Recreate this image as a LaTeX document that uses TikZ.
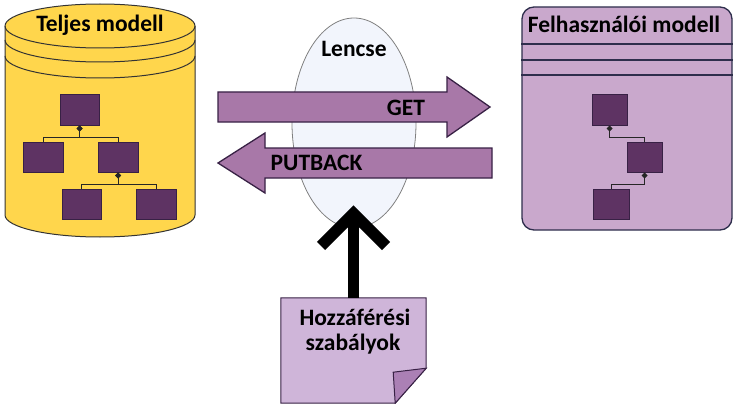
\documentclass[tikz,border=0pt]{standalone}
\usepackage{fontspec}
\setmainfont{Carlito}
\usepackage{tikz}
\usetikzlibrary{arrows.meta}
\usetikzlibrary{shapes.geometric}
\definecolor{myellow}{rgb}{1, 0.84, 0.3}
\definecolor{mplum}{rgb}{0.37, 0.2, 0.39}
\definecolor{mplumline}{rgb}{0.22, 0.13, 0.27}
\definecolor{mlilac}{rgb}{0.79, 0.66, 0.8}
\definecolor{marrow}{rgb}{0.66, 0.47, 0.66}
\definecolor{mnote}{rgb}{0.81, 0.71, 0.85}
\definecolor{mflap}{rgb}{0.67, 0.5, 0.71}
\definecolor{mlens}{rgb}{0.95, 0.96, 0.99}
\definecolor{mnavy}{rgb}{0.18, 0.18, 0.3}
\tikzset{lbl/.style = {font=\bfseries\fontsize{23.5}{26}\selectfont, inner sep=0pt},
         cyl/.style = {draw=black!80, fill=myellow, line width=1pt},
         treebox/.style = {draw=mplumline, fill=mplum, line width=1pt, minimum height=30pt, inner sep=0pt},
         link/.style = {line width=1pt, draw=black!85, {Diamond[length=6pt,width=6pt]}-},
         userbox/.style = {draw=mnavy, fill=mlilac, line width=1.3pt, rounded corners=12pt},
         blockarrow/.style = {draw=mplumline, fill=marrow, line width=1.3pt, line join=miter},
         ctrl/.style = {draw=black, line width=11.5pt}}

\begin{document}
\begin{tikzpicture}[x=1pt, y=-1pt]
    \useasboundingbox (0, 0) rectangle (742, 404);

    \draw [cyl] (5, 26) -- (5, 215) arc (180:0:95 and 22) -- (195, 26) arc (0:-180:95 and 22) -- cycle;
    \foreach \y in {26, 40, 56}
      \draw [cyl, fill=none] (5, \y) arc (180:0:95 and 22);
    \node [lbl, anchor=base] (full) at (100, 32) {Teljes modell};

    \node [treebox, minimum width=39pt] (tmA) at (79.5, 110) {};
    \node [treebox, minimum width=40pt] (tmB) at (43, 157) {};
    \node [treebox, minimum width=40pt] (tmC) at (118, 157) {};
    \node [treebox, minimum width=39pt] (tmD) at (81.5, 204.5) {};
    \node [treebox, minimum width=40pt] (tmE) at (156, 204.5) {};
    \draw [link] (tmA.south) -- ++(0, 12) -| (tmB.north);
    \draw [link] (tmA.south) -- ++(0, 12) -| (tmC.north);
    \draw [link] (tmC.south) -- ++(0, 12) -| (tmD.north);
    \draw [link] (tmC.south) -- ++(0, 12) -| (tmE.north);

    \node [userbox, minimum width=210pt, minimum height=223pt] (user) at (627, 118.5) {};
    \foreach \y in {44, 60, 75}
      \draw [draw=mnavy, line width=1.2pt] (user.west |- 0, \y) -- (user.east |- 0, \y);
    \node [lbl, anchor=base] (userlbl) at (624, 33) {Felhasználói modell};

    \node [treebox, minimum width=35pt] (umA) at (609.5, 110) {};
    \node [treebox, minimum width=35pt] (umB) at (644.5, 157) {};
    \node [treebox, minimum width=36pt] (umC) at (611, 204.5) {};
    \draw [link] (umA.south) -- ++(0, 12) -| (umB.north);
    \draw [link] (umB.south) -- ++(0, 12) -| (umC.north);

    \node [ellipse, draw=black!50, fill=mlens, line width=0.8pt, minimum width=124pt, minimum height=210pt] (lens) at (354, 123) {};
    \node [lbl, anchor=base] (lenslbl) at (354, 57) {Lencse};

    \draw [blockarrow] (218, 92) -- (447, 92) -- (447, 77) -- (490, 107) -- (447, 137) -- (447, 122) -- (218, 122) -- cycle;
    \node [lbl, anchor=base] (get) at (406, 115) {GET};
    \draw [blockarrow] (492, 148) -- (265, 148) -- (265, 133) -- (218, 163) -- (265, 193) -- (265, 178) -- (492, 178) -- cycle;
    \node [lbl, anchor=base] (putback) at (316.5, 170) {PUTBACK};

    \node [minimum width=145pt, minimum height=105pt] (note) at (353.5, 350.5) {};
    \draw [draw=mplumline, fill=mnote, line width=1pt] (note.north west) -- (note.north east) -- ([yshift=35pt]note.south east)
      -- ([xshift=-31pt]note.south east) -- (note.south west) -- cycle;
    \draw [draw=mplumline, fill=mflap, line width=1pt] ([yshift=35pt]note.south east) -- ([xshift=-33pt, yshift=31pt]note.south east)
      -- ([xshift=-31pt]note.south east) -- cycle;
    \node [lbl, anchor=base] (rules) at (355, 325) {Hozzáférési};
    \node [lbl, anchor=base] (rules2) at (353, 350) {szabályok};

    \coordinate (tip) at (353.5, 213.5);
    \draw [ctrl] (note.north) -- (tip);
    \draw [ctrl, line join=miter] ([shift={(-32.5, 32.5)}]tip) -- (tip) -- ([shift={(32.5, 32.5)}]tip);
  \end{tikzpicture}
\end{document}
